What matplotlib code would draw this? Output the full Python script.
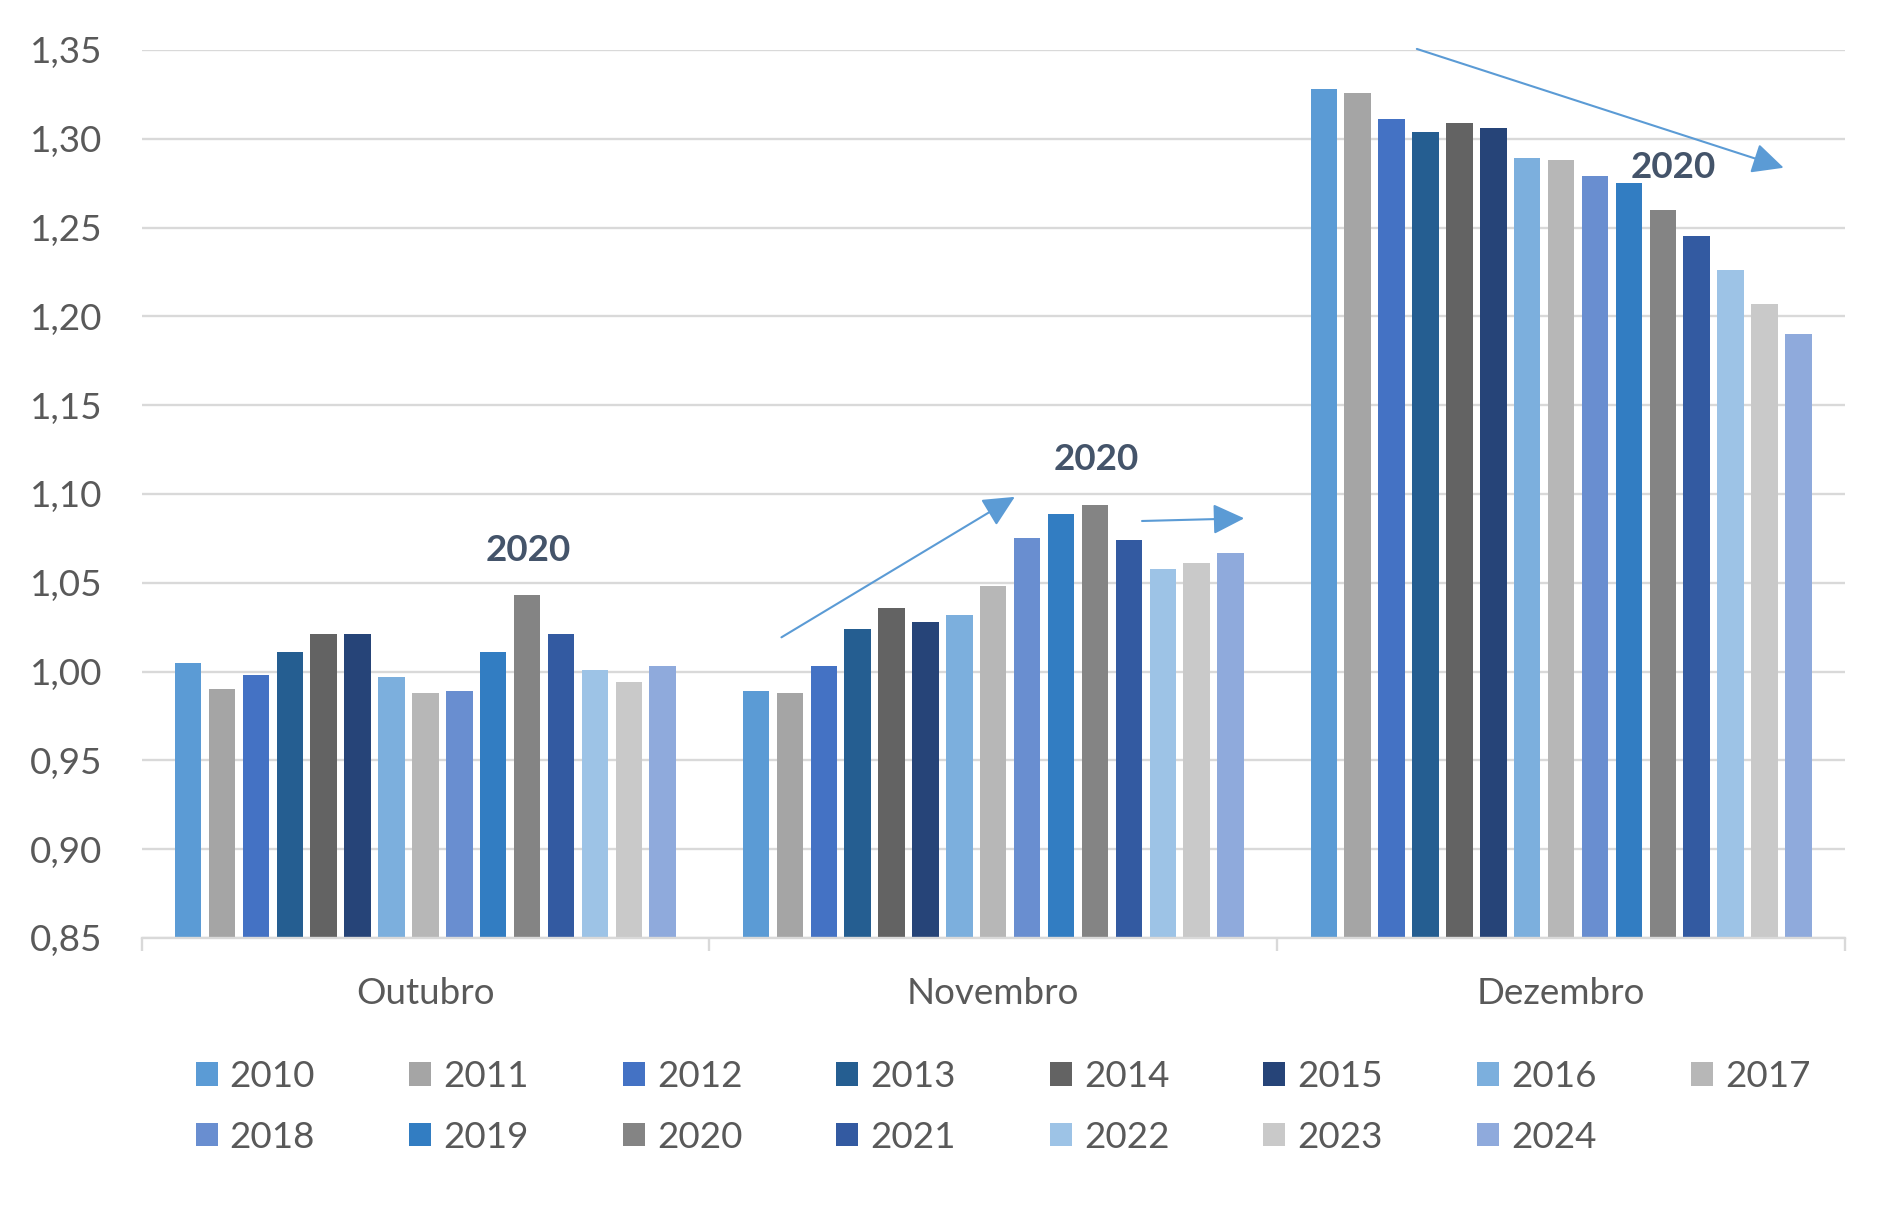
import matplotlib
matplotlib.use("Agg")
import matplotlib.pyplot as plt
import numpy as np

# dados
meses = ["Outubro", "Novembro", "Dezembro"]
anos = ["2010", "2011", "2012", "2013", "2014", "2015", "2016", "2017",
        "2018", "2019", "2020", "2021", "2022", "2023", "2024"]
outubro = [1.005, 0.990, 0.998, 1.011, 1.021, 1.021, 0.997, 0.988,
           0.989, 1.011, 1.043, 1.021, 1.001, 0.994, 1.003]
novembro = [0.989, 0.988, 1.003, 1.024, 1.036, 1.028, 1.032, 1.048,
            1.075, 1.089, 1.094, 1.074, 1.058, 1.061, 1.067]
dezembro = [1.328, 1.326, 1.311, 1.304, 1.309, 1.306, 1.289, 1.288,
            1.279, 1.275, 1.260, 1.245, 1.226, 1.207, 1.190]
y_ticks = [0.85, 0.90, 0.95, 1.00, 1.05, 1.10, 1.15, 1.20, 1.25, 1.30, 1.35]
y_labels = ["0,85", "0,90", "0,95", "1,00", "1,05", "1,10", "1,15",
            "1,20", "1,25", "1,30", "1,35"]

cores = ["#5B9BD5", "#A5A5A5", "#4472C4", "#255E91", "#636363", "#264478",
         "#7CAFDD", "#B7B7B7", "#698ED0", "#327DC2", "#848484", "#335AA1",
         "#9DC3E6", "#C9C9C9", "#8FAADC"]

plt.rcParams["font.family"] = ["Lato", "DejaVu Sans"]
txt_cor = "#595959"
grid_cor = "#D9D9D9"
fs = 26.5

fig = plt.figure(figsize=(18.95, 12.21), dpi=100)
ax = fig.add_axes([141.5 / 1895, 1 - 938 / 1221, (1845 - 141.5) / 1895, 888 / 1221])

x = np.arange(len(meses))
passo = 0.0597
largura = 0.0466
valores = np.array([outubro, novembro, dezembro])
barras = []
for i, ano in enumerate(anos):
    b = ax.bar(x + (i - 7) * passo, valores[:, i], width=largura,
               color=cores[i], label=ano, zorder=2)
    barras.append(b)

ax.set_xlim(-0.5, 2.5)
ax.set_ylim(0.85, 1.35)
ax.set_yticks(y_ticks)
ax.set_yticklabels(y_labels)
ax.yaxis.grid(True, color=grid_cor, linewidth=1.7)
ax.set_axisbelow(True)
for s in ["top", "right", "left"]:
    ax.spines[s].set_visible(False)
ax.spines["bottom"].set_color(grid_cor)
ax.spines["bottom"].set_linewidth(1.7)

ax.set_xticks(x)
ax.set_xticklabels(meses)
ax.set_xticks([-0.5, 0.5, 1.5, 2.5], minor=True)
ax.tick_params(axis="x", which="major", length=0, pad=28, labelsize=fs, labelcolor=txt_cor)
ax.tick_params(axis="x", which="minor", length=9.5, width=1.7, color=grid_cor, direction="out")
ax.tick_params(axis="y", length=0, pad=28, labelsize=fs, labelcolor=txt_cor)

# rótulos "2020"
rot_cor = "#44546A"
for (xr, yr) in [(0.181, 1.068), (1.182, 1.1195), (2.198, 1.284)]:
    ax.text(xr, yr, "2020", fontsize=fs, fontweight="bold", color=rot_cor,
            ha="center", va="center")

# setas de tendência
seta_cor = "#5B9BD5"
setas = [((0.627, 1.0193), (1.038, 1.0984)),
         ((1.262, 1.0848), (1.442, 1.0863)),
         ((1.746, 1.3506), (2.392, 1.2837))]
for ini, fim in setas:
    ax.annotate("", xy=fim, xytext=ini,
                arrowprops=dict(arrowstyle="-|>,head_length=0.97,head_width=0.47",
                                mutation_scale=20, color=seta_cor, lw=1.5,
                                shrinkA=0, shrinkB=0),
                annotation_clip=False, zorder=3)

# legenda preenchida por linhas (8 colunas)
ordem = [0, 8, 1, 9, 2, 10, 3, 11, 4, 12, 5, 13, 6, 14, 7]
fig.legend([barras[k] for k in ordem], [anos[k] for k in ordem],
           loc="upper left", bbox_to_anchor=(195.5 / 1895, 1 - 1060 / 1221),
           ncol=8, frameon=False, fontsize=fs, labelcolor=txt_cor,
           handlelength=0.6, handleheight=0.6, handletextpad=0.33,
           columnspacing=2.55, borderpad=0, borderaxespad=0, labelspacing=0.75)

fig.savefig("out.png", dpi=100)
plt.close(fig)
